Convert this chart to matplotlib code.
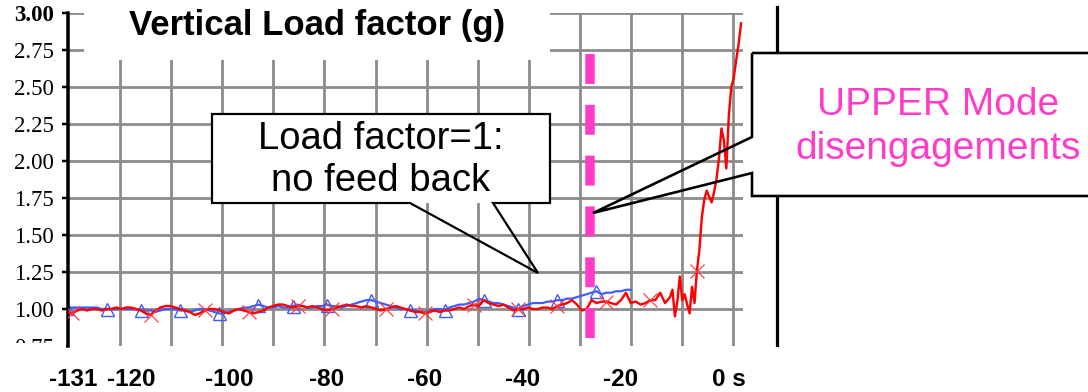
import numpy as np
import matplotlib
matplotlib.use("Agg")
import matplotlib.pyplot as plt
from matplotlib.patches import Rectangle, Polygon
from matplotlib.lines import Line2D
from matplotlib.ticker import FixedLocator, FixedFormatter, NullFormatter
import matplotlib.transforms as mtransforms

W, H, DPI = 1088, 392, 100

# ---- data -------------------------------------------------------------
# red trace: 1 s samples from -133 s to -11 s, then 0.5 s samples to +4.5 s
red_t = np.concatenate([np.arange(-133, -10, 1.0), np.arange(-10, 4.51, 0.5)])
red_g = [
    0.98, 0.97, 0.99, 1.00, 0.99, 1.00, 1.00, 0.99, 1.00, 1.00,
    1.01, 1.00, 1.01, 1.01, 1.00, 0.99, 0.97, 0.96, 0.99, 1.01,
    1.02, 1.02, 1.01, 1.00, 0.99, 0.98, 0.96, 0.97, 0.99, 1.00,
    1.00, 0.99, 0.98, 0.97, 0.99, 1.00, 0.99, 0.98, 0.97, 0.98,
    0.99, 1.01, 1.02, 1.03, 1.03, 1.02, 1.01, 1.02, 1.02, 1.01,
    1.02, 1.01, 1.00, 0.99, 1.00, 1.01, 1.02, 1.03, 1.02, 1.02,
    1.01, 1.02, 1.01, 1.00, 0.99, 1.00, 1.01, 1.02, 1.01, 1.00,
    0.99, 0.98, 0.98, 0.97, 0.98, 0.99, 0.98, 0.99, 0.99, 1.00,
    1.01, 1.00, 1.02, 1.03, 1.02, 1.06, 1.04, 1.03, 1.02, 1.03,
    1.01, 0.99, 1.00, 1.00, 1.01, 1.00, 1.00, 1.01, 1.01, 1.00,
    1.02, 1.03, 1.04, 1.06, 1.03, 0.99, 1.00, 1.06, 1.04, 1.05,
    1.05, 1.04, 1.03, 1.06, 1.11, 1.04, 1.05, 1.03, 1.04, 1.06,
    1.06, 1.11, 1.04,
    1.08, 1.13, 0.95, 1.05, 1.22, 1.06, 1.10, 1.03, 0.97, 1.15,
    1.04, 1.26, 1.40, 1.62, 1.74, 1.80, 1.76, 1.72, 1.79, 1.88,
    2.02, 2.22, 2.14, 1.95, 2.30, 2.50, 2.56, 2.68, 2.79, 2.93,
]
red_marks = [1, 17, 28, 37, 47, 54, 65, 73, 83, 92, 100, 110, 119, 134]

# blue trace: 1 s samples from -133 s to -18 s
blue_t = np.arange(-133, -17, 1.0)
blue_g = [
    1.01, 1.01, 1.01, 1.01, 1.01, 1.01, 1.01, 1.00, 1.00, 1.00,
    1.00, 1.00, 1.00, 1.00, 1.00, 0.99, 0.99, 0.99, 0.98, 0.99,
    1.00, 1.00, 1.00, 0.99, 0.99, 0.98, 0.99, 1.00, 1.00, 0.99,
    0.98, 0.97, 0.97, 0.98, 0.99, 1.00, 1.01, 1.01, 1.02, 1.03,
    1.02, 1.01, 1.01, 1.02, 1.01, 1.01, 1.02, 1.03, 1.02, 1.01,
    1.01, 1.02, 1.02, 1.03, 1.02, 1.02, 1.01, 1.02, 1.03, 1.04,
    1.05, 1.06, 1.06, 1.05, 1.04, 1.03, 1.02, 1.01, 1.00, 1.00,
    0.99, 0.99, 0.98, 0.98, 0.99, 1.00, 1.00, 0.99, 1.01, 1.02,
    1.03, 1.03, 1.04, 1.05, 1.07, 1.06, 1.05, 1.04, 1.04, 1.03,
    1.02, 1.01, 1.00, 1.02, 1.03, 1.04, 1.04, 1.04, 1.05, 1.05,
    1.06, 1.06, 1.07, 1.07, 1.08, 1.09, 1.10, 1.11, 1.12, 1.10,
    1.11, 1.11, 1.12, 1.12, 1.13, 1.13,
]
blue_marks = [0, 8, 15, 23, 31, 39, 46, 53, 62, 70, 77, 85, 92, 100, 108]

disengage_t = -26.3
x_tick_values = [-131, -120, -100, -80, -60, -40, -20, 0]
x_tick_labels = ["-131", "-120", "-100", "-80", "-60", "-40", "-20", "0 s"]
y_tick_values = [0.75, 1.00, 1.25, 1.50, 1.75, 2.00, 2.25, 2.50, 2.75, 3.00]
y_tick_labels = ["0.75", "1.00", "1.25", "1.50", "1.75", "2.00", "2.25", "2.50", "2.75", "3.00"]

SANS = "Liberation Sans"
SERIF = "Liberation Serif"
MAGENTA = "#FF3CC8"
GRID = "#8c8c8c"
PT = 72.0 / DPI  # points per pixel


def fx(px):
    return px / W


def fy(py):
    return 1.0 - py / H


fig = plt.figure(figsize=(W / DPI, H / DPI), dpi=DPI)
fig.patch.set_facecolor("white")

ax_l, ax_r, ax_t, ax_b = 68, 743, 13, 346
ax = fig.add_axes([fx(ax_l), fy(ax_b), (ax_r - ax_l) / W, (ax_b - ax_t) / H])
ax.set_xlim(-132.86, 4.90)
ax.set_ylim(0.75, 3.0)

# major ticks carry the labels, minor ticks carry the grid
ax.xaxis.set_major_locator(FixedLocator(x_tick_values))
ax.xaxis.set_major_formatter(FixedFormatter(x_tick_labels))
ax.xaxis.set_minor_locator(FixedLocator(list(np.arange(-122.24, 4.0, 10.43))))
ax.yaxis.set_major_locator(FixedLocator(y_tick_values))
ax.yaxis.set_major_formatter(FixedFormatter(y_tick_labels))
ax.yaxis.set_minor_locator(FixedLocator(y_tick_values[1:]))
ax.yaxis.remove_overlapping_locs = False
ax.yaxis.set_minor_formatter(NullFormatter())
ax.xaxis.set_minor_formatter(NullFormatter())

ax.grid(which="minor", color=GRID, linewidth=2.8 * PT)
ax.grid(which="major", visible=False)
ax.set_axisbelow(True)

for s in ("top", "right", "bottom"):
    ax.spines[s].set_visible(False)
ax.spines["left"].set_linewidth(3.5 * PT)
ax.spines["left"].set_color("black")
ax.spines["left"].set_zorder(3)

ax.tick_params(axis="x", which="both", length=0, pad=22 * PT)
ax.tick_params(axis="y", which="major", length=6 * PT, width=2.5 * PT,
               direction="out", pad=8 * PT, color="black")
ax.tick_params(axis="y", which="minor", length=0)
for lab in ax.get_xticklabels():
    lab.set_fontfamily(SANS)
    lab.set_fontweight("bold")
    lab.set_fontsize(17.5)
for lab in ax.get_yticklabels():
    lab.set_fontfamily(SERIF)
    lab.set_fontsize(16.5)
ax.get_yticklabels()[-1].set_fontweight("bold")
zero_lab = ax.get_xticklabels()[-1]
zero_lab.set_transform(zero_lab.get_transform() +
                       mtransforms.ScaledTranslation(10 / DPI, 0, fig.dpi_scale_trans))
first_lab = ax.get_xticklabels()[0]
first_lab.set_transform(first_lab.get_transform() +
                        mtransforms.ScaledTranslation(-4 / DPI, 0, fig.dpi_scale_trans))

# traces
ax.plot(blue_t, blue_g, color="#3f5cff", linewidth=2.2 * PT, marker="^",
        markevery=blue_marks, markersize=13 * PT, markerfacecolor="none",
        markeredgecolor="#3f5cff", markeredgewidth=1.4 * PT, zorder=3)
ax.plot(red_t, red_g, color="#ff0000", linewidth=2.4 * PT, marker="x",
        markevery=red_marks, markersize=14 * PT, markeredgecolor="#ff3b3b",
        markeredgewidth=1.2 * PT, zorder=4)

# disengagement marker
ax.plot([disengage_t, disengage_t], [2.72, 0.80], color=MAGENTA,
        linewidth=9.5 * PT, dashes=(3.15, 2.2), solid_capstyle="butt",
        dash_capstyle="butt", zorder=6)

# cover for the lower part of the bottom y label
fig.patches.append(Rectangle((0, fy(362)), fx(66), fy(343) - fy(362),
                             transform=fig.transFigure, facecolor="white",
                             edgecolor="none", zorder=5))

# title on a white panel
fig.patches.append(Rectangle((fx(84), fy(60)), fx(550) - fx(84), fy(0) - fy(60),
                             transform=fig.transFigure, facecolor="white",
                             edgecolor="none", zorder=5))
fig.text(fx(317), fy(25), "Vertical Load factor (g)", family=SANS,
         weight="bold", fontsize=25, ha="center", va="center", zorder=7)

# separator line to the right of the plot
fig.lines.append(Line2D([fx(777), fx(777)], [fy(7), fy(345)],
                        transform=fig.transFigure, color="black",
                        linewidth=3.2 * PT, zorder=5))

# callout 1
fig.patches.append(Rectangle((fx(212), fy(203)), fx(550) - fx(212), fy(114) - fy(203),
                             transform=fig.transFigure, facecolor="white",
                             edgecolor="none", zorder=6))
c1 = [(212, 114), (550, 114), (550, 203), (493, 203), (538, 273),
      (410, 203), (212, 203)]
fig.patches.append(Polygon([(fx(a), fy(b)) for a, b in c1], closed=True,
                           transform=fig.transFigure, fill=False,
                           edgecolor="black", linewidth=2.2 * PT,
                           joinstyle="miter", zorder=7))
fig.text(fx(381), fy(160), "Load factor=1:\nno feed back", family=SANS,
         fontsize=27.5, ha="center", va="center", linespacing=1.22, zorder=8)

# callout 2
fig.patches.append(Rectangle((fx(752), fy(196)), fx(1100) - fx(752), fy(53) - fy(196),
                             transform=fig.transFigure, facecolor="white",
                             edgecolor="none", zorder=6))
c2 = [(752, 53), (1100, 53), (1100, 196), (752, 196), (752, 173),
      (593, 213), (752, 137)]
fig.patches.append(Polygon([(fx(a), fy(b)) for a, b in c2], closed=True,
                           transform=fig.transFigure, fill=False,
                           edgecolor="black", linewidth=2.6 * PT,
                           joinstyle="miter", zorder=7))
fig.text(fx(938), fy(127), "UPPER Mode\ndisengagements", family=SANS,
         fontsize=28, color=MAGENTA, ha="center", va="center",
         linespacing=1.28, zorder=8)

fig.savefig("out.png", dpi=DPI, facecolor="white")
